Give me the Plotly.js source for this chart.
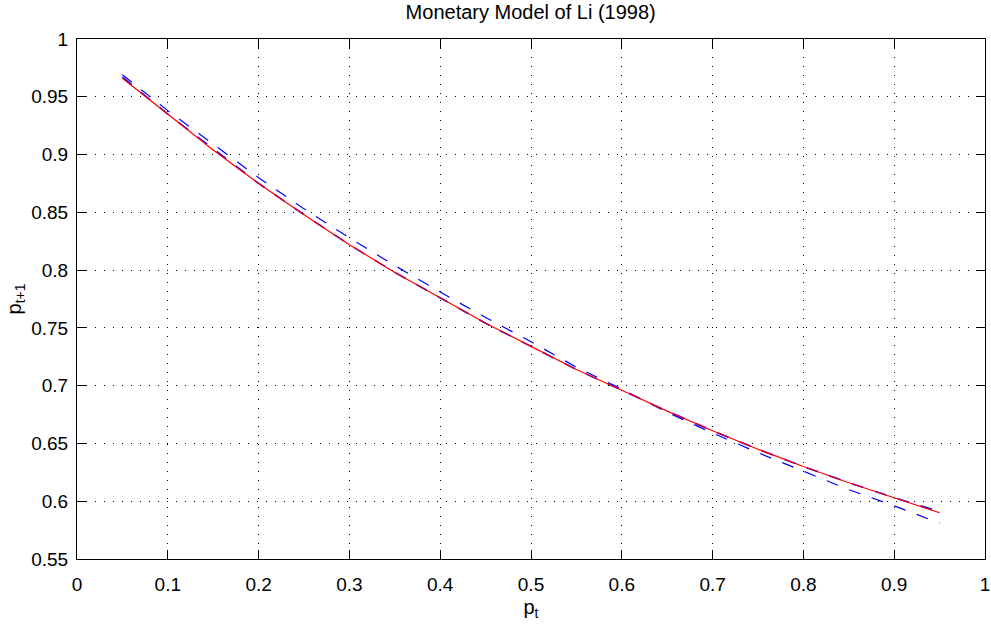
<!DOCTYPE html>
<html>
<head>
<meta charset="utf-8">
<script src="https://cdn.plot.ly/plotly-3.0.1.min.js"></script>
<style>html,body{margin:0;padding:0;background:#fff;}#chart{width:991px;height:624px;}</style>
</head>
<body>
<div id="chart"></div>
<script>
// p_t grid
const pt = [0.05,0.10,0.15,0.20,0.25,0.30,0.35,0.40,0.45,0.50,0.55,0.60,0.65,0.70,0.75,0.80,0.85,0.90,0.95];
// exact solution (red solid)
const exactP = [0.966,0.935,0.904,0.875,0.848,0.822,0.798,0.776,0.754,0.734,0.714,0.696,0.678,0.661,0.645,0.630,0.616,0.603,0.590];
// close approximation (blue dashed, nearly on top of red)
const approxHigh = [0.967,0.935,0.905,0.875,0.848,0.822,0.798,0.776,0.754,0.734,0.714,0.696,0.678,0.661,0.645,0.630,0.616,0.603,0.591];
// lower order approximation (blue dashed)
const approxLow = [0.969,0.938,0.909,0.880,0.853,0.828,0.804,0.781,0.759,0.738,0.716,0.697,0.677,0.659,0.642,0.626,0.610,0.596,0.581];

const xTicks = [0,0.1,0.2,0.3,0.4,0.5,0.6,0.7,0.8,0.9,1];
const xTickText = ['0','0.1','0.2','0.3','0.4','0.5','0.6','0.7','0.8','0.9','1'];
const yTicks = [0.55,0.6,0.65,0.7,0.75,0.8,0.85,0.9,0.95,1];
const yTickText = ['0.55','0.6','0.65','0.7','0.75','0.8','0.85','0.9','0.95','1'];

const font = 'Liberation Sans, Arial, sans-serif';

const traces = [
  {x: pt, y: approxLow, mode: 'lines', line: {color: '#0000ff', width: 1.2, dash: '12px,12px'}, hoverinfo: 'skip'},
  {x: pt, y: approxHigh, mode: 'lines', line: {color: '#0000ff', width: 1.6, dash: '12px,12px'}, hoverinfo: 'skip'},
  {x: pt, y: exactP, mode: 'lines', line: {color: '#ff0000', width: 1.2}, hoverinfo: 'skip'}
];

const axisCommon = {
  showline: true, linecolor: '#000', linewidth: 1, mirror: 'ticks',
  ticks: 'inside', ticklen: 9, tickcolor: '#000', tickwidth: 1,
  showgrid: true, gridcolor: '#000', gridwidth: 1, griddash: '1px,8px',
  zeroline: false, tickfont: {family: font, size: 19, color: '#000'}
};

const layout = {
  width: 991, height: 624,
  margin: {l: 77, r: 6, t: 39, b: 65},
  paper_bgcolor: '#fff', plot_bgcolor: '#fff',
  showlegend: false,
  title: {text: 'Monetary Model of Li (1998)', font: {family: font, size: 20, color: '#000'}, x: 0.5355, xanchor: 'center', y: 0.981, yanchor: 'middle'},
  xaxis: Object.assign({}, axisCommon, {
    range: [0, 1], tickvals: xTicks, ticktext: xTickText, ticklabelstandoff: 8,
    title: {text: 'p<sub>t</sub>', font: {family: font, size: 20, color: '#000'}, standoff: 6}
  }),
  yaxis: Object.assign({}, axisCommon, {
    range: [0.55, 1], tickvals: yTicks, ticktext: yTickText, ticklabelstandoff: 4,
    title: {text: 'p<sub>t+1</sub>', font: {family: font, size: 20, color: '#000'}, standoff: 4}
  })
};

Plotly.newPlot('chart', traces, layout, {staticPlot: true, displayModeBar: false});
</script>
</body>
</html>
